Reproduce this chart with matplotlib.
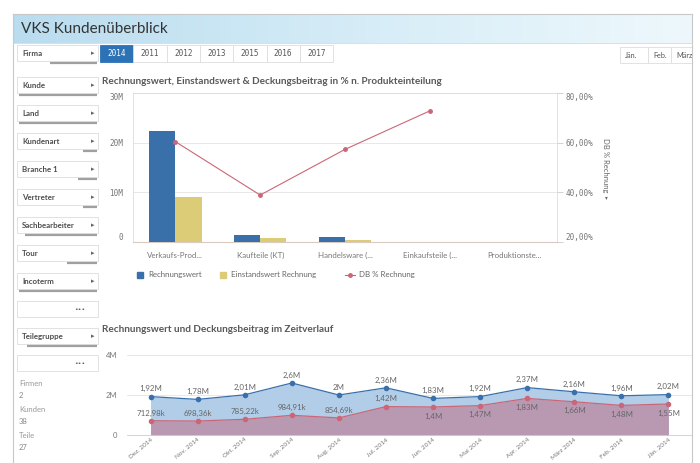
import matplotlib.pyplot as plt
import matplotlib.patches as mpatches
from matplotlib.colors import LinearSegmentedColormap
import numpy as np

W, H = 700, 463

# --- data: chart 1 (Produkteinteilung) ---
produkt = ['Verkaufs-Prod...', 'Kaufteile (KT)', 'Handelsware (...', 'Einkaufsteile (...', 'Produktionste...']
rechnungswert = [22.4e6, 1.35e6, 0.95e6, 0, 0]
einstandswert = [9.0e6, 0.8e6, 0.46e6, 0, 0]
db_prozent = [60.4, 38.9, 57.3, 72.8, np.nan]

# --- data: chart 2 (Zeitverlauf) ---
monate = ['Dez. 2014', 'Nov. 2014', 'Okt. 2014', 'Sep. 2014', 'Aug. 2014', 'Jul. 2014',
          'Jun. 2014', 'Mai 2014', 'Apr. 2014', 'März 2014', 'Feb. 2014', 'Jän. 2014']
rw_monat = [1.92e6, 1.78e6, 2.01e6, 2.6e6, 2.0e6, 2.36e6, 1.83e6, 1.92e6, 2.37e6, 2.16e6, 1.96e6, 2.02e6]
db_monat = [712980, 698360, 785220, 984910, 854690, 1.42e6, 1.4e6, 1.47e6, 1.83e6, 1.66e6, 1.48e6, 1.55e6]

# --- dashboard bits ---
jahre = ['2014', '2011', '2012', '2013', '2015', '2016', '2017']
monat_buttons = ['Jän.', 'Feb.', 'März']
filter_namen = ['Kunde', 'Land', 'Kundenart', 'Branche 1', 'Vertreter', 'Sachbearbeiter',
                'Tour', 'Incoterm', '•••', 'Teilegruppe', '•••']
kennzahlen = [('Firmen', '2'), ('Kunden', '38'), ('Teile', '27')]

BLUE = '#3a70aa'
YELLOW = '#ddcc77'
RED = '#cc6677'
GRID = '#e4e4e4'
TXT = '#666666'

plt.rcParams['font.family'] = ['Lato', 'DejaVu Sans']

fig = plt.figure(figsize=(7, 4.63), dpi=100)
fig.patch.set_facecolor('white')

# background axes in pixel coords
bg = fig.add_axes([0, 0, 1, 1], zorder=0)
cmap = LinearSegmentedColormap.from_list('hdr', ['#b9dcef', '#d5ecf7', '#eef8fc'])
bg.imshow(np.linspace(0, 1, 256)[None, :], extent=[13, 692, 43, 14], aspect='auto', cmap=cmap)
bg.set_xlim(0, W)
bg.set_ylim(H, 0)
bg.axis('off')

frame = '#c8c8c8'
bg.plot([13, 13], [14, H], color=frame, lw=0.8)
bg.plot([692, 692], [14, H], color=frame, lw=0.8)
bg.plot([13, 692], [14, 14], color=frame, lw=0.8)
bg.plot([13, 692], [43, 43], color='#d8d8d8', lw=0.6)
bg.text(21, 29, 'VKS Kundenüberblick', fontsize=11, color='#333333', va='center')


def filterbox(y, name, bar_start=None):
    bg.add_patch(mpatches.Rectangle((17, y - 8), 81, 16, facecolor='white', edgecolor='#dddddd', lw=0.6))
    if name == '•••':
        bg.text(80, y, name, fontsize=4.5, color='#555555', va='center', ha='center',
                family='DejaVu Sans')
    else:
        bg.text(22, y, name, fontsize=5.7, color='#4d4d4d', va='center', fontweight='bold')
        bg.text(93, y, '▸', fontsize=5, color='#666666', va='center', ha='center', family='DejaVu Sans')
    if bar_start is not None:
        bg.plot([bar_start, 97], [y + 10, y + 10], color='#a0a0a0', lw=1.6, solid_capstyle='butt')


filterbox(53, 'Firma', 50)
filter_y = [85, 113, 141, 169, 197, 225, 253, 281, 309, 336, 363]
bar_starts = [19, 19, 83, 78, 83, 25, 67, 19, None, 27, None]
for name, y, bs in zip(filter_namen, filter_y, bar_starts):
    filterbox(y, name, bs)

ky = 383
for lab, val in kennzahlen:
    bg.text(19, ky, lab, fontsize=5.5, color='#999999', va='center')
    bg.text(19, ky + 12, val, fontsize=5.5, color='#888888', va='center')
    ky += 26

# year buttons
for i, j in enumerate(jahre):
    x0 = 100 + i * 33.3
    sel = i == 0
    bg.add_patch(mpatches.Rectangle((x0, 45), 33.3, 17, facecolor='#2b73b6' if sel else 'white',
                                    edgecolor='#2b73b6' if sel else '#dddddd', lw=0.6))
    bg.text(x0 + 16.6, 53.5, j, fontsize=5.5, color='white' if sel else '#555555',
            ha='center', va='center', family='DejaVu Sans Mono')

mx = [620, 648, 671, 692]
for i, m in enumerate(monat_buttons):
    bg.add_patch(mpatches.Rectangle((mx[i], 47), mx[i + 1] - mx[i], 16, facecolor='white',
                                    edgecolor='#dddddd', lw=0.6))
    bg.text(mx[i] + 5, 55, m, fontsize=5.2, color='#555555', va='center')

# chart titles
bg.text(102, 82, 'Rechnungswert, Einstandswert & Deckungsbeitrag in % n. Produkteinteilung',
        fontsize=7.2, fontweight='bold', color='#595959', va='center')
bg.text(102, 329, 'Rechnungswert und Deckungsbeitrag im Zeitverlauf',
        fontsize=7.2, fontweight='bold', color='#595959', va='center')

# legend chart 1
bg.add_patch(mpatches.Rectangle((137, 272), 6, 6, color=BLUE))
bg.text(148, 275, 'Rechnungswert', fontsize=5.7, color=TXT, va='center')
bg.add_patch(mpatches.Rectangle((220, 272), 6, 6, color=YELLOW))
bg.text(231, 275, 'Einstandswert Rechnung', fontsize=5.7, color=TXT, va='center')
bg.plot([345, 355], [275, 275], color=RED, lw=0.8)
bg.plot([350], [275], 'o', color=RED, ms=2.5)
bg.text(359, 275, 'DB % Rechnung', fontsize=5.7, color=TXT, va='center')

bg.text(606, 165, 'DB % Rechnung', fontsize=5.5, color=TXT, rotation=270, ha='center', va='center')
bg.text(606, 198, '▾', fontsize=4, color=TXT, ha='center', va='center', family='DejaVu Sans')


def pix_axes(left, top, right, bottom):
    return fig.add_axes([left / W, 1 - bottom / H, (right - left) / W, (bottom - top) / H], zorder=2)


# ---------------- chart 1 ----------------
ax1 = pix_axes(133, 93, 557, 242)
ax1.set_facecolor('none')
x = np.arange(len(produkt))
bw = 0.31
ax1.bar(x - bw / 2, rechnungswert, bw, color=BLUE, zorder=3)
ax1.bar(x + bw / 2, einstandswert, bw, color=YELLOW, zorder=3)
ax1.set_xlim(-0.5, len(produkt) - 0.5)
ax1.set_ylim(0, 30e6)
ax1.set_yticks([0, 10e6, 20e6, 30e6])
ax1.set_yticklabels(['0', '10M', '20M', '30M'], family='DejaVu Sans Mono')
ax1.set_xticks(x)
ax1.set_xticklabels(produkt)
ax1.tick_params(axis='y', length=0, pad=7, labelsize=5.5, labelcolor='#777777')
ax1.tick_params(axis='x', length=0, pad=7, labelsize=5.7, labelcolor='#777777')
ax1.grid(axis='y', color=GRID, lw=0.6, zorder=0)
ax1.set_axisbelow(True)
for s in ['left', 'right', 'top']:
    ax1.spines[s].set_color('#dddddd')
    ax1.spines[s].set_linewidth(0.6)
ax1.spines['bottom'].set_color('#d9c9c0')
ax1.spines['bottom'].set_linewidth(0.8)
yl = ax1.get_yticklabels()
yl[0].set_va('bottom')
yl[-1].set_va('top')

ax1r = ax1.twinx()
ax1r.plot(x, db_prozent, color=RED, lw=0.8, marker='o', ms=2.5, zorder=4)
ax1r.set_ylim(20, 80)
ax1r.set_yticks([20, 40, 60, 80])
ax1r.set_yticklabels(['20,00%', '40,00%', '60,00%', '80,00%'], family='DejaVu Sans Mono')
ax1r.tick_params(axis='y', length=4, width=0.6, color='#cccccc', pad=2, labelsize=5.5, labelcolor='#777777')
for s in ax1r.spines.values():
    s.set_visible(False)
yr = ax1r.get_yticklabels()
yr[0].set_va('bottom')
yr[-1].set_va('top')

# ---------------- chart 2 ----------------
ax2 = pix_axes(127, 355, 692, 435)
ax2.set_facecolor('none')
xm = np.arange(len(monate))
ax2.fill_between(xm, 0, rw_monat, color='#b1cde8', lw=0, zorder=1)
ax2.fill_between(xm, 0, db_monat, color='#b999b2', lw=0, zorder=2)
ax2.plot(xm, rw_monat, color=BLUE, lw=0.9, marker='o', ms=3, zorder=4)
ax2.plot(xm, db_monat, color=RED, lw=0.9, marker='o', ms=3, zorder=4)
ax2.set_xlim(-0.5, len(monate) - 0.5)
ax2.set_ylim(0, 4e6)
ax2.set_yticks([0, 2e6, 4e6])
ax2.set_yticklabels(['0', '2M', '4M'])
ax2.set_xticks(xm)
ax2.set_xticklabels(monate, rotation=40, ha='right', rotation_mode='anchor')
ax2.tick_params(axis='y', length=0, pad=7, labelsize=5.5, labelcolor='#777777')
ax2.tick_params(axis='x', length=0, pad=1.5, labelsize=4.6, labelcolor='#777777')
ax2.grid(axis='y', color=GRID, lw=0.6, zorder=0)
ax2.set_axisbelow(True)
for s in ['left', 'right', 'top']:
    ax2.spines[s].set_visible(False)
ax2.spines['bottom'].set_color('#cccccc')
ax2.spines['bottom'].set_linewidth(0.6)


def fmt(v):
    if v >= 1e6:
        s = f'{v / 1e6:.2f}'.rstrip('0').rstrip('.') + 'M'
    else:
        s = f'{v / 1e3:.2f}'.rstrip('0').rstrip('.') + 'k'
    return s.replace('.', ',')


for i in xm:
    ax2.annotate(fmt(rw_monat[i]), (i, rw_monat[i]), xytext=(0, 3), textcoords='offset points',
                 ha='center', va='bottom', fontsize=5.7, color='#666666', zorder=5)
    above = db_monat[i] < rw_monat[i] - 0.7e6
    ax2.annotate(fmt(db_monat[i]), (i, db_monat[i]), xytext=(0, 3 if above else -4),
                 textcoords='offset points', ha='center', va='bottom' if above else 'top',
                 fontsize=5.7, color='#666666', zorder=5)

fig.savefig('out.png', dpi=100)
